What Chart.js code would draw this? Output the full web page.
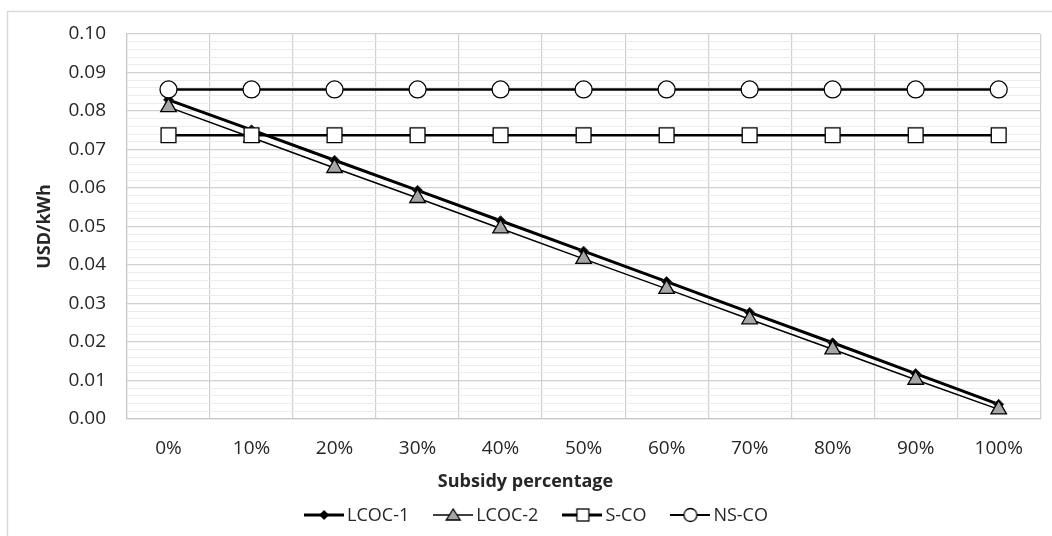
<!DOCTYPE html>
<html>
<head>
<meta charset="utf-8">
<script src="https://cdn.jsdelivr.net/npm/chart.js@4.4.1/dist/chart.umd.min.js"></script>
<style>
  html, body { margin: 0; padding: 0; background: #fff; }
  #wrap { width: 1052px; height: 536px; position: relative; }
</style>
</head>
<body>
<div id="wrap"><canvas id="c" width="1052" height="536"></canvas></div>
<script>
// ---- Data ----
const categories = ['0%', '10%', '20%', '30%', '40%', '50%', '60%', '70%', '80%', '90%', '100%'];
const lcoc1 = [0.0829, 0.0751, 0.0672, 0.0594, 0.0515, 0.0436, 0.0357, 0.0277, 0.0198, 0.0118, 0.0038];
const lcoc2 = [0.0810, 0.0731, 0.0652, 0.0574, 0.0495, 0.0416, 0.0338, 0.0259, 0.0181, 0.0102, 0.0025];
const sco   = [0.0737, 0.0737, 0.0737, 0.0737, 0.0737, 0.0737, 0.0737, 0.0737, 0.0737, 0.0737, 0.0737];
const nsco  = [0.0856, 0.0856, 0.0856, 0.0856, 0.0856, 0.0856, 0.0856, 0.0856, 0.0856, 0.0856, 0.0856];
const seriesNames = ['LCOC-1', 'LCOC-2', 'S-CO', 'NS-CO'];
const xTitle = 'Subsidy percentage';
const yTitle = 'USD/kWh';

const FONT = "'Open Sans', 'DejaVu Sans', sans-serif";
const TXT = '#262626';

// Legend symbol images (line + marker)
function legendIcon(kind) {
  const cv = document.createElement('canvas');
  cv.width = 40; cv.height = 20;
  const g = cv.getContext('2d');
  const cy = 10;
  g.strokeStyle = '#000';
  g.lineWidth = kind === 'tri' ? 1.6 : (kind === 'circ' ? 2 : 3);
  g.beginPath(); g.moveTo(0, cy); g.lineTo(40, cy); g.stroke();
  g.lineWidth = 1.3;
  if (kind === 'dia') {
    g.fillStyle = '#000';
    g.beginPath(); g.moveTo(20, cy - 5); g.lineTo(25, cy); g.lineTo(20, cy + 5); g.lineTo(15, cy); g.closePath(); g.fill();
  } else if (kind === 'tri') {
    g.fillStyle = '#a6a6a6';
    g.beginPath(); g.moveTo(20, cy - 6); g.lineTo(27, cy + 5); g.lineTo(13, cy + 5); g.closePath(); g.fill(); g.stroke();
  } else if (kind === 'sq') {
    g.fillStyle = '#fff';
    g.fillRect(14.5, cy - 6, 12, 12); g.strokeRect(14.5, cy - 6, 12, 12);
  } else {
    g.fillStyle = '#fff';
    g.beginPath(); g.arc(20, cy, 6.5, 0, Math.PI * 2); g.fill(); g.stroke();
  }
  return cv;
}
const icons = [legendIcon('dia'), legendIcon('tri'), legendIcon('sq'), legendIcon('circ')];

const frame = {
  id: 'frame',
  beforeDraw(chart) {
    const g = chart.ctx;
    g.save();
    g.fillStyle = '#fff';
    g.fillRect(0, 0, chart.width, chart.height);
    g.strokeStyle = '#d9d9d9';
    g.lineWidth = 1.5;
    g.beginPath();
    g.moveTo(7.5, chart.height); g.lineTo(7.5, 11.5); g.lineTo(chart.width, 11.5);
    g.stroke();
    g.restore();
  }
};

// Custom bottom legend: line+marker icon, then label
const bottomLegend = {
  id: 'bottomLegend',
  afterDraw(chart) {
    const g = chart.ctx;
    g.save();
    g.font = '18px ' + FONT;
    g.fillStyle = TXT;
    g.textBaseline = 'middle';
    const iconW = 40, gapIT = 3, gapItems = 24;
    const names = chart.data.datasets.map(d => d.label);
    const widths = names.map(n => iconW + gapIT + g.measureText(n).width);
    const total = widths.reduce((a, b) => a + b, 0) + gapItems * (names.length - 1);
    let x = 536 - total / 2;
    const cy = 515;
    names.forEach((n, i) => {
      g.drawImage(icons[i], x, cy - 10);
      g.fillText(n, x + iconW + gapIT, cy + 1);
      x += widths[i] + gapItems;
    });
    g.restore();
  }
};

new Chart(document.getElementById('c'), {
  type: 'line',
  data: {
    labels: categories,
    datasets: [
      { label: seriesNames[0], data: lcoc1, order: 3, borderColor: '#000', borderWidth: 3,
        pointStyle: 'rectRot', pointRadius: 5, pointBackgroundColor: '#000', pointBorderColor: '#333', pointBorderWidth: 1 },
      { label: seriesNames[1], data: lcoc2, order: 2, borderColor: '#000', borderWidth: 1.5,
        pointStyle: 'triangle', pointRadius: 9, pointBackgroundColor: '#a6a6a6', pointBorderColor: '#000', pointBorderWidth: 1.3 },
      { label: seriesNames[2], data: sco, order: 1, borderColor: '#000', borderWidth: 2.5,
        pointStyle: 'rect', pointRadius: 10.5, pointBackgroundColor: '#fff', pointBorderColor: '#000', pointBorderWidth: 1.3 },
      { label: seriesNames[3], data: nsco, order: 0, borderColor: '#000', borderWidth: 2.5,
        pointStyle: 'circle', pointRadius: 8.5, pointBackgroundColor: '#fff', pointBorderColor: '#000', pointBorderWidth: 1.3 }
    ]
  },
  options: {
    responsive: false,
    animation: false,
    layout: { padding: { left: 8, right: 9, top: 34, bottom: 40 } },
    elements: { line: { tension: 0 } },
    scales: {
      x: {
        type: 'category',
        offset: true,
        grid: { offset: true, color: '#d0d0d0', lineWidth: 1.2, drawTicks: false },
        border: { color: '#c8c8c8', width: 1.2 },
        ticks: { padding: 18, color: TXT, font: { family: FONT, size: 19 } },
        afterFit(s) { s.height = 52.4; }
      },
      yMinor: {
        type: 'linear', position: 'left', min: 0, max: 0.1,
        ticks: { display: false, stepSize: 0.002, count: 51 },
        grid: {
          drawTicks: false,
          color: (ctx) => {
            const v = ctx.tick ? ctx.tick.value * 100 : 0;
            return Math.abs(v - Math.round(v)) < 1e-6 ? 'rgba(0,0,0,0)' : '#ebebeb';
          },
          lineWidth: 1
        },
        border: { display: false },
        afterFit(s) { s.width = 0; }
      },
      y: {
        type: 'linear', position: 'left', min: 0, max: 0.1,
        ticks: { stepSize: 0.01, padding: 21, color: TXT, font: { family: FONT, size: 19 },
          callback: (v) => Number(v).toFixed(2) },
        grid: { color: '#d0d0d0', lineWidth: 1.2, drawTicks: false },
        border: { color: '#c8c8c8', width: 1.2 },
        title: { display: true, text: yTitle, color: TXT, padding: { top: 26, bottom: 0 },
          font: { family: FONT, size: 18, weight: 'bold' } },
        afterFit(s) { s.width = 119; }
      }
    },
    plugins: {
      title: {
        display: true, position: 'bottom', text: xTitle, color: TXT,
        padding: { top: 0, bottom: 3 },
        font: { family: FONT, size: 18, weight: 'bold' }
      },
      legend: { display: false },
      tooltip: { enabled: false }
    }
  },
  plugins: [frame, bottomLegend]
});
</script>
</body>
</html>
